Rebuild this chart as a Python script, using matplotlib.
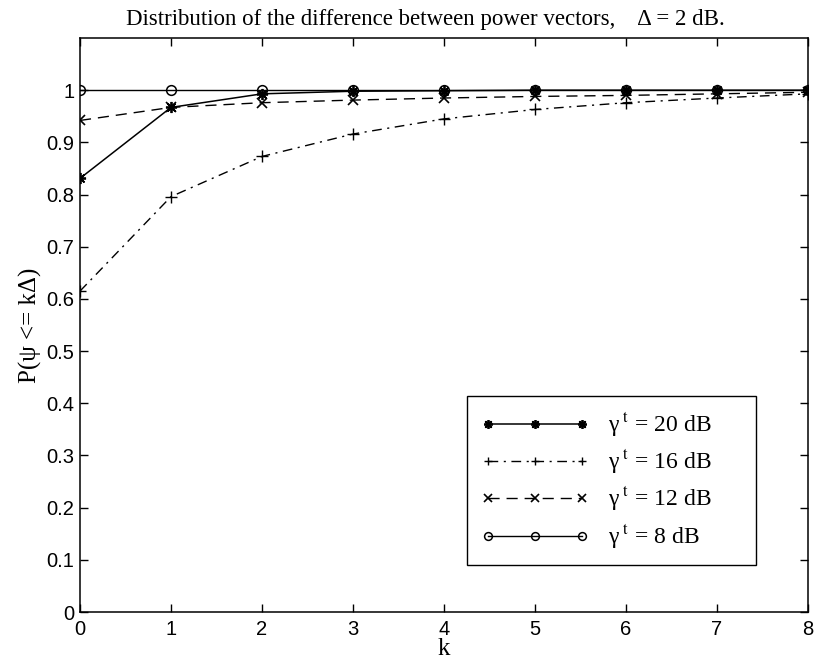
import matplotlib
matplotlib.use("Agg")
import matplotlib.pyplot as plt

plt.rcParams['mathtext.fontset'] = 'stix'

k = [0, 1, 2, 3, 4, 5, 6, 7, 8]
p_20db = [0.831, 0.967, 0.993, 0.998, 0.999, 1.0, 1.0, 1.0, 1.0]
p_16db = [0.615, 0.796, 0.873, 0.916, 0.945, 0.963, 0.976, 0.985, 0.993]
p_12db = [0.942, 0.967, 0.976, 0.981, 0.985, 0.988, 0.990, 0.993, 0.996]
p_8db = [1.0, 1.0, 1.0, 1.0, 1.0, 1.0, 1.0, 1.0, 1.0]

yticks = [0, 0.1, 0.2, 0.3, 0.4, 0.5, 0.6, 0.7, 0.8, 0.9, 1.0]
ytick_labels = ['0', '0.1', '0.2', '0.3', '0.4', '0.5', '0.6', '0.7', '0.8', '0.9', '1']

serif = 'Liberation Serif'
sans = 'Liberation Sans'

fig = plt.figure(figsize=(8.14, 6.64), dpi=100)
ax = fig.add_axes([80 / 814, 52 / 664, 728 / 814, 574 / 664])

asterisk = (8, 2, 0)
ax.plot(k, p_20db, color='k', lw=1.1, ls='-', marker=asterisk, ms=8, mew=1.3,
        label='γ$^{\\ \\rm t}$ = 20 dB      ')
ax.plot(k, p_16db, color='k', lw=1.0, ls=(0, (7, 4, 1.5, 4)), marker='+', ms=8, mew=1.0,
        label='γ$^{\\ \\rm t}$ = 16 dB      ')
ax.plot(k, p_12db, color='k', lw=1.0, ls=(0, (8, 5)), marker='x', ms=7, mew=1.2,
        label='γ$^{\\ \\rm t}$ = 12 dB      ')
ax.plot(k, p_8db, color='k', lw=1.0, ls='-', marker='o', ms=7, mew=1.1, mfc='none',
        label='γ$^{\\ \\rm t}$ = 8 dB      ')

ax.set_xlim(0, 8)
ax.set_ylim(0, 1.1)
ax.set_xticks(k)
ax.set_yticks(yticks)
ax.set_yticklabels(ytick_labels)
ax.tick_params(direction='in', top=True, right=True, length=6, width=1,
               labelsize=14.5, pad=4)
ax.tick_params(axis='x', pad=6)
for lab in ax.get_xticklabels() + ax.get_yticklabels():
    lab.set_fontfamily(sans)
for sp in ax.spines.values():
    sp.set_linewidth(1.1)

ax.set_xlabel('k', fontfamily=serif, fontsize=18, labelpad=-1)
ax.set_ylabel('P(ψ <= kΔ)', fontfamily=serif, fontsize=18, labelpad=3)
ax.set_title('Distribution of the difference between power vectors,    Δ = 2 dB.',
             fontfamily=serif, fontsize=16.5, pad=9, x=0.474)

leg = ax.legend(loc='lower right', bbox_to_anchor=(0.9286, 0.082), numpoints=3,
                handlelength=4.6, handletextpad=0.77, labelspacing=0.38,
                borderpad=0.6, borderaxespad=0, markerscale=0.8,
                fancybox=False, framealpha=1, edgecolor='k',
                prop={'family': serif, 'size': 17})
leg.get_frame().set_linewidth(1.0)

fig.savefig('out.png', dpi=100)
